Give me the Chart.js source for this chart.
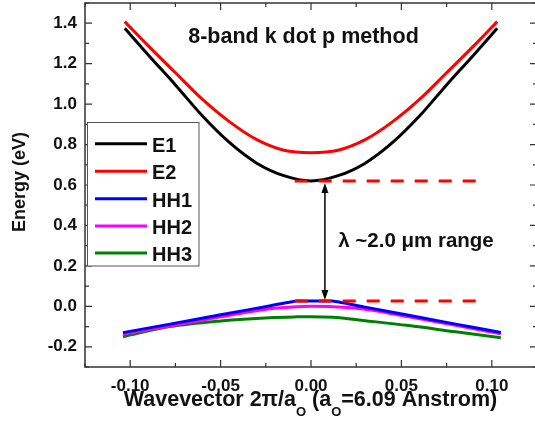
<!DOCTYPE html>
<html><head><meta charset="utf-8">
<script src="https://cdn.jsdelivr.net/npm/chart.js@4.4.0/dist/chart.umd.min.js"></script>
<style>html,body{margin:0;padding:0;overflow:hidden;background:#fff;}#wrap{width:545px;height:428px;position:relative;}</style>
</head><body><div id="wrap"><canvas id="c"></canvas></div>
<script>
// ---- data ----
const kE = [-0.103,-0.09,-0.075,-0.06,-0.045,-0.03,-0.015,0,0.015,0.03,0.045,0.06,0.075,0.09,0.103];
const E1 = [1.375,1.243,1.095,0.941,0.809,0.708,0.646,0.62,0.646,0.708,0.809,0.941,1.095,1.243,1.375];
const E2 = [1.408,1.288,1.155,1.023,0.912,0.824,0.772,0.76,0.772,0.824,0.912,1.023,1.155,1.288,1.408];
const kH = [-0.104,-0.078,-0.05,-0.023,-0.008,0,0.012,0.03,0.054,0.08,0.105];
const HH1 = [-0.130,-0.088,-0.042,0.002,0.026,0.026,0.026,-0.004,-0.044,-0.088,-0.129];
const HH2 = [-0.137,-0.097,-0.052,-0.012,-0.002,0.0,-0.002,-0.014,-0.052,-0.094,-0.136];
const HH3 = [-0.150,-0.100,-0.072,-0.056,-0.052,-0.051,-0.054,-0.071,-0.095,-0.126,-0.155];
const seriesNames = ['E1','E2','HH1','HH2','HH3'];
const seriesColors = ['#000000','#ff0000','#0000ff','#ff00ff','#008000'];
const gapLevels = [0.62, 0.026];
const gapRange = [-0.009, 0.093];
const arrowK = 0.0077;
const xTicks = [-0.10,-0.05,0.00,0.05,0.10];
const xMinor = [-0.125,-0.075,-0.025,0.025,0.075,0.125];
const yTicks = [-0.2,0.0,0.2,0.4,0.6,0.8,1.0,1.2,1.4];
const yMinor = [-0.3,-0.1,0.1,0.3,0.5,0.7,0.9,1.1,1.3,1.5];
const titleText = '8-band k dot p method';
const noteText = 'λ ~2.0 μm range';
const yTitle = 'Energy (eV)';
const xTitleParts = [['Wavevector 2π/a',0],['O',1],[' (a',0],['O',1],['=6.09 Anstrom)',0]];

const FF = '"Liberation Sans", Arial, sans-serif';
const pts = (xs, ys) => xs.map((x,i)=>({x:x, y:ys[i]}));
const ys = [E1,E2,HH1,HH2,HH3];
const xs = [kE,kE,kH,kH,kH];
const datasets = seriesNames.map((n,i)=>({label:n,data:pts(xs[i],ys[i]),borderColor:seriesColors[i],borderWidth:3,
  cubicInterpolationMode: i===2 ? 'default' : 'monotone', tension: i===2 ? 0.1 : 0.4, pointRadius:0,fill:false}));
gapLevels.forEach((g,i)=>datasets.push({label:'gap'+i,data:pts(gapRange,[g,g]),borderColor:'#ff0000',borderWidth:3,borderDash:[13,11],pointRadius:0,fill:false,order:-1}));

const deco = {
  id:'deco',
  afterDatasetsDraw(chart){
    const {ctx, scales:{x,y}} = chart;
    const ax = x.getPixelForValue(arrowK);
    const y1 = y.getPixelForValue(gapLevels[0]);
    const y2 = y.getPixelForValue(gapLevels[1]);
    ctx.save();
    ctx.strokeStyle='#000'; ctx.fillStyle='#000'; ctx.lineWidth=1.5;
    ctx.beginPath(); ctx.moveTo(ax,y1+6); ctx.lineTo(ax,y2-6); ctx.stroke();
    const head=(tx,ty,dir)=>{ctx.beginPath();ctx.moveTo(tx,ty);ctx.lineTo(tx-3.5,ty+dir*10);ctx.lineTo(tx+3.5,ty+dir*10);ctx.closePath();ctx.fill();};
    head(ax,y1+2,1); head(ax,y2-1,-1);
    ctx.restore();
  },
  afterDraw(chart){
    const {ctx, chartArea:a, scales:{x,y}} = chart;
    ctx.save();
    ctx.strokeStyle='#333'; ctx.lineWidth=1.5;
    ctx.strokeRect(a.left,a.top,a.right-a.left,a.bottom-a.top);
    ctx.lineWidth=1.2;
    const tk=(vals,len)=>{
      vals.forEach(v=>{const p=x.getPixelForValue(v);ctx.beginPath();ctx.moveTo(p,a.bottom);ctx.lineTo(p,a.bottom-len);ctx.moveTo(p,a.top);ctx.lineTo(p,a.top+len);ctx.stroke();});
    };
    const tky=(vals,len)=>{
      vals.forEach(v=>{const p=y.getPixelForValue(v);ctx.beginPath();ctx.moveTo(a.left,p);ctx.lineTo(a.left+len,p);ctx.moveTo(a.right,p);ctx.lineTo(a.right-len,p);ctx.stroke();});
    };
    tk(xTicks,7); tk(xMinor,4); tky(yTicks,7); tky(yMinor,4);
    // legend
    ctx.fillStyle='#fff'; ctx.fillRect(87,122,112,144);
    ctx.strokeStyle='#555'; ctx.lineWidth=1; ctx.strokeRect(87.5,122.5,111.5,143.5);
    const base=[151.7,179.3,206.8,234,261];
    ctx.font='bold 20px '+FF; ctx.textAlign='left'; ctx.textBaseline='alphabetic';
    seriesNames.forEach((n,i)=>{
      ctx.strokeStyle=seriesColors[i]; ctx.lineWidth=3;
      ctx.beginPath(); ctx.moveTo(95,base[i]-8); ctx.lineTo(147,base[i]-8); ctx.stroke();
      ctx.fillStyle='#111'; ctx.fillText(n,152,base[i]);
    });
    ctx.fillStyle='#111';
    ctx.font='bold 21.5px '+FF; ctx.textAlign='center';
    ctx.fillText(titleText,303.5,43);
    ctx.font='bold 20.5px '+FF;
    ctx.fillText(noteText,416,247);
    ctx.save(); ctx.translate(25,182); ctx.rotate(-Math.PI/2);
    ctx.font='bold 18px '+FF; ctx.textAlign='center'; ctx.fillText(yTitle,0,0); ctx.restore();
    const fm='bold 21.5px '+FF, fs='bold 13px '+FF;
    let tw=0; xTitleParts.forEach(([t,s])=>{ctx.font=s?fs:fm; tw+=ctx.measureText(t).width;});
    let cx=310.5-tw/2; ctx.textAlign='left';
    xTitleParts.forEach(([t,s])=>{ctx.font=s?fs:fm; ctx.fillText(t,cx,s?416:406); cx+=ctx.measureText(t).width;});
    ctx.restore();
  }
};
const noPad = s => { s.paddingTop=0; s.paddingBottom=0; s.paddingLeft=0; s.paddingRight=0; };

new Chart(document.getElementById('c'),{
  type:'line',
  data:{datasets:datasets},
  options:{
    responsive:true, maintainAspectRatio:false, animation:false,
    layout:{padding:{top:3,right:8,left:0,bottom:0}},
    plugins:{legend:{display:false},tooltip:{enabled:false}},
    scales:{
      x:{type:'linear',min:-0.125,max:0.125,
        afterBuildTicks:s=>{s.ticks=xTicks.map(v=>({value:v}));},
        afterFit:s=>{s.height=61; noPad(s);},
        grid:{display:false,drawTicks:false},border:{display:false},
        ticks:{padding:9,color:'#111',font:{family:FF,size:17,weight:'bold'},maxRotation:0,callback:v=>v.toFixed(2)}},
      y:{type:'linear',min:-0.3,max:1.5,
        afterBuildTicks:s=>{s.ticks=yTicks.map(v=>({value:v}));},
        afterFit:s=>{s.width=85; noPad(s);},
        grid:{display:false,drawTicks:false},border:{display:false},
        ticks:{padding:8,color:'#111',font:{family:FF,size:17,weight:'bold'},callback:v=>v.toFixed(1)}}
    }
  },
  plugins:[deco]
});
</script></body></html>
